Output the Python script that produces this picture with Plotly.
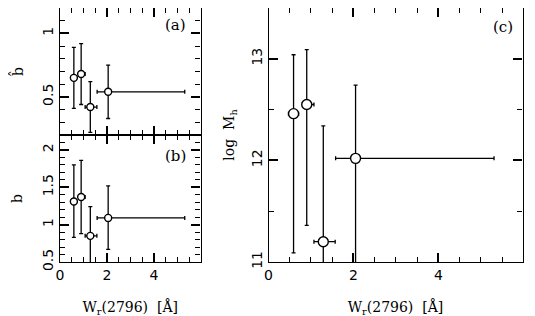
import plotly.graph_objects as go

# Data
W = [0.59, 0.90, 1.29, 2.05]
W_err_minus = [0.12, 0.10, 0.22, 0.47]
W_err_plus = [0.12, 0.17, 0.28, 3.26]

bhat = [0.65, 0.68, 0.42, 0.54]
bhat_err_plus = [0.24, 0.24, 0.20, 0.21]
bhat_err_minus = [0.24, 0.24, 0.20, 0.21]

b = [1.31, 1.37, 0.85, 1.09]
b_err_plus = [0.49, 0.49, 0.39, 0.43]
b_err_minus = [0.48, 0.49, 0.39, 0.42]

logM = [12.46, 12.55, 11.20, 12.02]
logM_err_plus = [0.58, 0.54, 1.14, 0.72]
logM_err_minus = [1.37, 1.19, 1.14, 1.32]

panel_labels = ["(a)", "(b)", "(c)"]

W_fig, H_fig = 535, 316
OFF = 8  # page body margin offset
ML, MR, MT, MB = 30, 6, 0, 40
PW = W_fig - ML - MR
PH = H_fig - MT - MB
def clamp(v):
    return max(0.0, min(1.0, v))
def px_x(p):
    return clamp((p - OFF - ML) / PW)
def px_y(p):
    return clamp(1 - (p - OFF - MT) / PH)

fig = go.Figure()

def add_panel(y, ep, em, xa, ya, msize):
    fig.add_trace(go.Scatter(
        x=W, y=y, mode="markers", xaxis=xa, yaxis=ya,
        marker=dict(symbol="circle", size=msize, color="white",
                    line=dict(color="black", width=1.4)),
        error_x=dict(type="data", symmetric=False, array=W_err_plus,
                     arrayminus=W_err_minus, color="black", thickness=1.3, width=2),
        error_y=dict(type="data", symmetric=False, array=ep,
                     arrayminus=em, color="black", thickness=1.3, width=2),
        showlegend=False, cliponaxis=True,
    ))

add_panel(bhat, bhat_err_plus, bhat_err_minus, "x", "y", 7)
add_panel(b, b_err_plus, b_err_minus, "x2", "y2", 7)
add_panel(logM, logM_err_plus, logM_err_minus, "x3", "y3", 10)

font_t = dict(family="DejaVu Serif", size=14, color="black")
font_k = dict(family="DejaVu Sans", size=14, color="black")

def xax(domain, anchor, showlabels, title):
    return dict(domain=domain, anchor=anchor, range=[0, 5.98], showgrid=False, zeroline=False,
                automargin=False,
                showline=True, linecolor="black", linewidth=1.4, mirror="ticks",
                ticks="inside", ticklen=9, tickwidth=1.5, tickcolor="black",
                tickmode="linear", tick0=0, dtick=2, showticklabels=showlabels, tickfont=font_k,
                minor=dict(ticks="inside", ticklen=5, dtick=0.5, tick0=0, tickwidth=1.4,
                           tickcolor="black", showgrid=False),
                title=dict(text=title, font=font_t, standoff=20) if title else None)

def yax(domain, anchor, rng, dtick, mdtick, title, standoff):
    return dict(domain=domain, anchor=anchor, range=rng, showgrid=False, zeroline=False,
                automargin=False,
                showline=True, linecolor="black", linewidth=1.4, mirror="ticks",
                ticks="inside", ticklen=9, tickwidth=1.5, tickcolor="black",
                tickmode="linear", tick0=0, dtick=dtick, tickangle=-90, tickfont=font_k,
                ticklabelstandoff=0,
                minor=dict(ticks="inside", ticklen=5, dtick=mdtick, tick0=0, tickwidth=1.4,
                           tickcolor="black", showgrid=False),
                title=dict(text=title, font=font_t, standoff=standoff))

xl = [px_x(60), px_x(200.5)]
xc = [px_x(268.5), px_x(522.5)]

fig.update_layout(
    width=W_fig, height=H_fig,
    margin=dict(l=ML, r=MR, t=MT, b=MB, autoexpand=False),
    paper_bgcolor="white", plot_bgcolor="white",
    xaxis=xax(xl, "y", False, None),
    yaxis=yax([px_y(135), px_y(8)], "x", [0.2, 1.2], 0.5, 0.1, "b\u0302", 14),
    xaxis2=xax(xl, "y2", True, "W<sub>r</sub>(2796)  [Å]"),
    yaxis2=yax([px_y(262), px_y(135)], "x2", [0.5, 2.2], 0.5, 0.1, "b", 14),
    xaxis3=xax(xc, "y3", True, "W<sub>r</sub>(2796)  [Å]"),
    yaxis3=yax([px_y(262), px_y(8)], "x3", [11, 13.5], 1, 0.5, "log  M<sub>h</sub>", 10),
)

ann_pos = [("x", "y", 5.45, 1.063), ("x2", "y2", 5.45, 1.92), ("x3", "y3", 5.81, 13.31)]
for lab, (xa, ya, xx, yy) in zip(panel_labels, ann_pos):
    fig.add_annotation(x=xx, y=yy, xref=xa, yref=ya, text=lab, showarrow=False,
                       xanchor="right", yanchor="middle",
                       font=dict(family="DejaVu Serif", size=15, color="black"))

fig.write_html("out.html")
